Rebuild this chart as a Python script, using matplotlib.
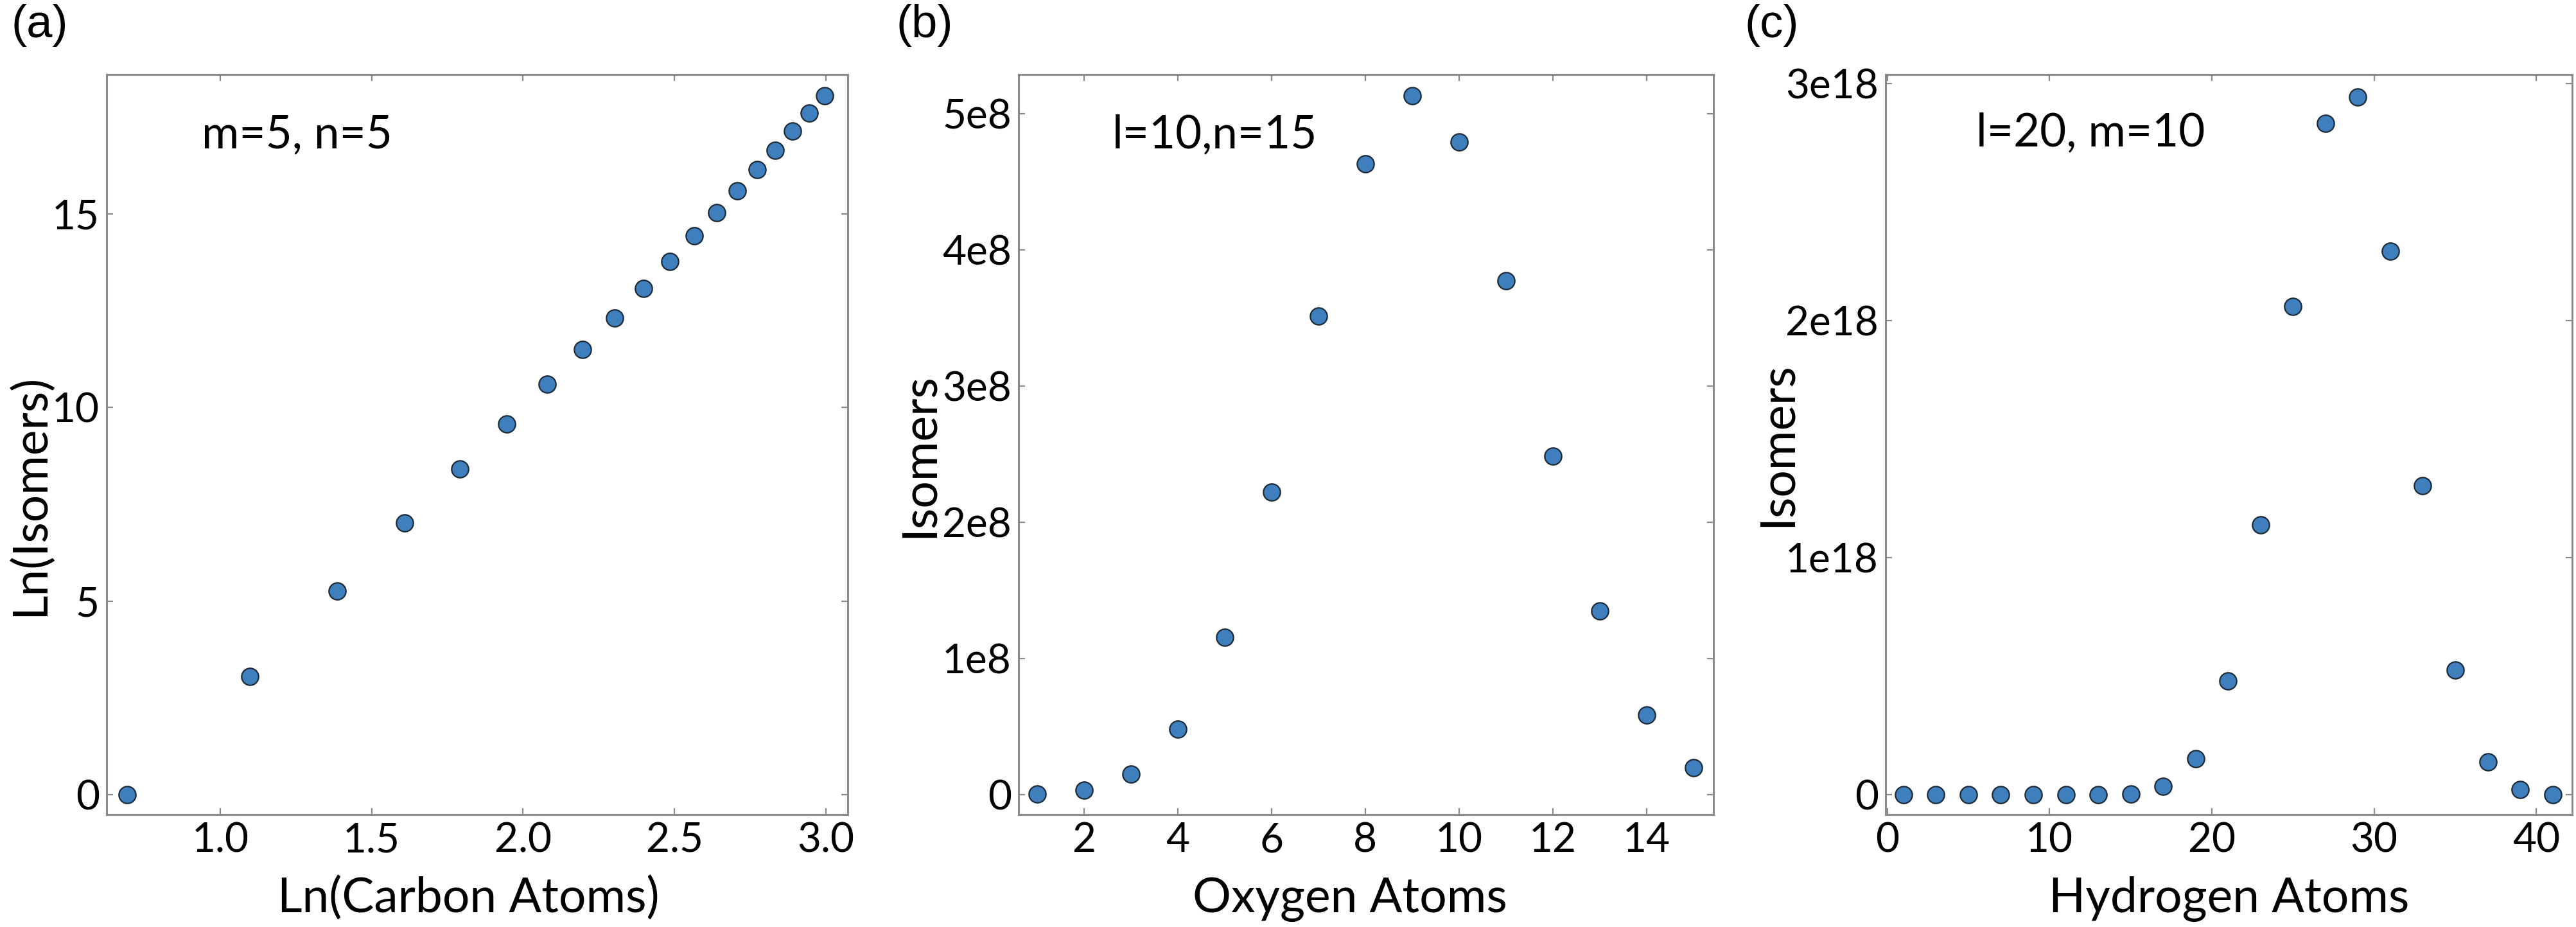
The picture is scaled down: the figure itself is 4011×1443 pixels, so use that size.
import numpy as np
import matplotlib
matplotlib.use("Agg")
import matplotlib.pyplot as plt
from matplotlib.ticker import FixedLocator, FixedFormatter

# ---------------- data ----------------
carbon_atoms = np.arange(2, 21)
ln_carbon = np.log(carbon_atoms)
ln_isomers = [0.0, 3.05, 5.27, 7.02, 8.41, 9.57, 10.60, 11.50, 12.32, 13.07,
              13.77, 14.43, 15.03, 15.60, 16.14, 16.65, 17.14, 17.60, 18.05]

oxygen_atoms = list(range(1, 16))
oxygen_isomers = [0.003e8, 0.032e8, 0.152e8, 0.48e8, 1.155e8, 2.224e8, 3.516e8,
                  4.632e8, 5.134e8, 4.794e8, 3.773e8, 2.484e8, 1.347e8,
                  0.585e8, 0.199e8]

hydrogen_atoms = list(range(1, 42, 2))
hydrogen_isomers = [0.0, 0.0, 0.0, 0.0, 0.0, 0.0, 0.0, 0.004e18, 0.034e18,
                    0.151e18, 0.479e18, 1.139e18, 2.061e18, 2.831e18, 2.944e18,
                    2.292e18, 1.303e18, 0.526e18, 0.139e18, 0.022e18, 0.0]

a_xticks = [1.0, 1.5, 2.0, 2.5, 3.0]
a_xticklabels = ["1.0", "1.5", "2.0", "2.5", "3.0"]
a_yticks = [0, 5, 10, 15]
a_yticklabels = ["0", "5", "10", "15"]
b_xticks = [2, 4, 6, 8, 10, 12, 14]
b_yticks = [0, 1e8, 2e8, 3e8, 4e8, 5e8]
b_yticklabels = ["0", "1e8", "2e8", "3e8", "4e8", "5e8"]
c_xticks = [0, 10, 20, 30, 40]
c_yticks = [0, 1e18, 2e18, 3e18]
c_yticklabels = ["0", "1e18", "2e18", "3e18"]

# ---------------- style ----------------
W, H = 4012, 1443
DPI = 100
fig = plt.figure(figsize=(W / DPI, H / DPI), dpi=DPI)
fig.patch.set_facecolor("white")

FONT = ["Lato", "DejaVu Sans"]
SPINE = "#8a8a8a"
FACE = "#3f7fbd"
EDGE = "#1c2a36"

def px_axes(x0, x1, y0=116, y1=1268):
    return fig.add_axes([x0 / W, 1 - y1 / H, (x1 - x0) / W, (y1 - y0) / H])

def style(ax):
    for s in ax.spines.values():
        s.set_color(SPINE)
        s.set_linewidth(2.2)
    ax.tick_params(which="both", direction="in", top=True, right=True,
                   length=7, width=1.6, color=SPINE, labelsize=46,
                   pad=8, labelcolor="black")
    for lab in ax.get_xticklabels() + ax.get_yticklabels():
        lab.set_fontfamily(FONT)

def scatter(ax, x, y):
    ax.plot(x, y, linestyle="none", marker="o", markersize=19,
            markerfacecolor=FACE, markeredgecolor=EDGE, markeredgewidth=1.6)

def labels(ax, xl, yl, xlx, ylx, yly):
    ax.set_xlabel(xl, fontsize=54, family=FONT)
    ax.set_ylabel(yl, fontsize=54, family=FONT)
    ax.xaxis.label.set_va("baseline")
    ax.yaxis.label.set_va("baseline")
    ax.xaxis.set_label_coords(xlx, -0.132)
    ax.yaxis.set_label_coords(ylx, yly)

# ---------------- panel (a) ----------------
axa = px_axes(166, 1320)
scatter(axa, ln_carbon, ln_isomers)
axa.set_xlim(0.625, 3.072)
axa.set_ylim(-0.51, 18.6)
axa.xaxis.set_major_locator(FixedLocator(a_xticks))
axa.xaxis.set_major_formatter(FixedFormatter(a_xticklabels))
axa.yaxis.set_major_locator(FixedLocator(a_yticks))
axa.yaxis.set_major_formatter(FixedFormatter(a_yticklabels))
style(axa)
labels(axa, "Ln(Carbon Atoms)", "Ln(Isomers)", 0.488, -0.085, 0.432)
axa.text(0.128, 0.901, "m=5, n=5", transform=axa.transAxes, fontsize=51,
         family=FONT, ha="left", va="baseline")

# ---------------- panel (b) ----------------
axb = px_axes(1586, 2668)
scatter(axb, oxygen_atoms, oxygen_isomers)
axb.set_xlim(0.6, 15.43)
axb.set_ylim(-0.146e8, 5.288e8)
axb.xaxis.set_major_locator(FixedLocator(b_xticks))
axb.xaxis.set_major_formatter(FixedFormatter([str(t) for t in b_xticks]))
axb.yaxis.set_major_locator(FixedLocator(b_yticks))
axb.yaxis.set_major_formatter(FixedFormatter(b_yticklabels))
style(axb)
labels(axb, "Oxygen Atoms", "Isomers", 0.477, -0.123, 0.486)
axb.text(0.135, 0.901, "l=10,n=15", transform=axb.transAxes, fontsize=51,
         family=FONT, ha="left", va="baseline")

# ---------------- panel (c) ----------------
axc = px_axes(2936, 4005)
scatter(axc, hydrogen_atoms, hydrogen_isomers)
axc.set_xlim(-0.1, 42.2)
axc.set_ylim(-0.084e18, 3.038e18)
axc.xaxis.set_major_locator(FixedLocator(c_xticks))
axc.xaxis.set_major_formatter(FixedFormatter([str(t) for t in c_xticks]))
axc.yaxis.set_major_locator(FixedLocator(c_yticks))
axc.yaxis.set_major_formatter(FixedFormatter(c_yticklabels))
style(axc)
labels(axc, "Hydrogen Atoms", "Isomers", 0.5, -0.138, 0.5)
axc.text(0.132, 0.903, "l=20, m=10", transform=axc.transAxes, fontsize=51,
         family=FONT, ha="left", va="baseline")

# ---------------- panel letters ----------------
for x, s in [(18, "(a)"), (1396, "(b)"), (2717, "(c)")]:
    fig.text(x / W, 1 - 6 / H, s, fontsize=52, family=["Liberation Sans", "DejaVu Sans"],
             ha="left", va="top")

fig.savefig("out.png", dpi=DPI, facecolor="white")
